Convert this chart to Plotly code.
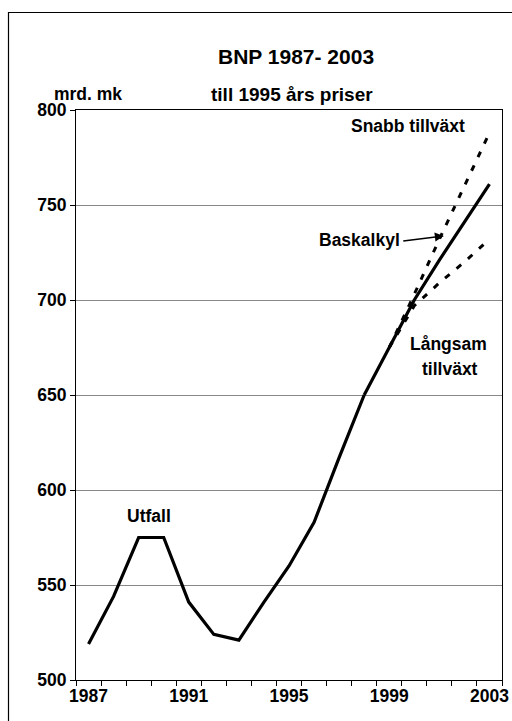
import plotly.graph_objects as go

# Data (milliards of marks, 1995 prices)
years_utfall = list(range(1987, 1999))
utfall = [519, 544, 575, 575, 541, 524, 521, 541, 560, 583, 617, 650]

years_bas = list(range(1998, 2004))
baskalkyl = [650, 675, 700, 721, 741, 761]

years_scen = list(range(1999, 2004))
snabb = [675, 703, 732, 760, 788]
langsam = [675, 697, 709, 720, 732]

x_ticks = [1987, 1991, 1995, 1999, 2003]
y_ticks = [500, 550, 600, 650, 700, 750, 800]

FONT = "Liberation Sans, Arial, sans-serif"
DASH = "6px,9px"

fig = go.Figure()
fig.add_trace(go.Scatter(x=years_utfall, y=utfall, mode="lines", name="Utfall",
                         line=dict(color="black", width=3.2)))
fig.add_trace(go.Scatter(x=years_bas, y=baskalkyl, mode="lines", name="Baskalkyl",
                         line=dict(color="black", width=3.2)))
fig.add_trace(go.Scatter(x=years_scen, y=snabb, mode="lines", name="Snabb tillväxt",
                         line=dict(color="black", width=3, dash=DASH)))
fig.add_trace(go.Scatter(x=years_scen, y=langsam, mode="lines", name="Långsam tillväxt",
                         line=dict(color="black", width=3, dash=DASH)))

bold = dict(family=FONT, size=17.5, color="black")

# plot area in pixels: x 76..502, y 110..680
PW, PH = 426, 570

annotations = [
    dict(text="<b>BNP 1987- 2003</b>", xref="paper", yref="paper",
         x=(296 - 76) / PW, y=(680 - 43) / PH,
         showarrow=False, font=dict(family=FONT, size=21, color="black")),
    dict(text="<b>till 1995 års priser</b>", xref="paper", yref="paper",
         x=(292 - 76) / PW, y=(680 - 82) / PH,
         showarrow=False, font=dict(family=FONT, size=19, color="black")),
    dict(text="<b>mrd. mk</b>", xref="paper", yref="paper",
         x=(52 - 76) / PW, y=(680 - 82) / PH,
         showarrow=False, font=bold),
    dict(text="<b>Snabb tillväxt</b>", x=1999.74, y=791.6, showarrow=False, font=bold),
    dict(text="<b>Baskalkyl</b>", x=1997.8, y=731.6, showarrow=False, font=bold),
    dict(text="", x=2001.18, y=733.7, ax=1999.5, ay=731, axref="x", ayref="y",
         showarrow=True, arrowhead=2, arrowsize=1.2, arrowwidth=1.5, arrowcolor="black"),
    dict(text="<b>Långsam</b>", x=2001.38, y=676.8, showarrow=False, font=bold),
    dict(text="<b>tillväxt</b>", x=2001.42, y=663.7, showarrow=False, font=bold),
    dict(text="<b>Utfall</b>", x=1989.42, y=586.3, showarrow=False, font=bold),
]

fig.update_layout(
    width=512, height=721,
    margin=dict(l=76, r=10, t=110, b=41),
    paper_bgcolor="white", plot_bgcolor="white",
    showlegend=False,
    annotations=annotations,
    font=dict(family=FONT, color="black"),
    shapes=[dict(type="rect", xref="paper", yref="paper",
                 x0=(8.5 - 76) / PW, x1=(540 - 76) / PW,
                 y0=(680 - 760) / PH, y1=(680 - 12.5) / PH,
                 line=dict(color="black", width=1.2), layer="below")],
)

fig.update_xaxes(
    range=[1986.5, 2003.5], automargin=False,
    tickmode="array", tickvals=x_ticks, ticktext=[f"<b>{v}</b>" for v in x_ticks],
    ticks="", showgrid=False, zeroline=False,
    showline=True, linecolor="black", linewidth=1.2, mirror=True,
    tickfont=dict(family=FONT, size=17.5, color="black"),
    minor=dict(tickmode="linear", tick0=1986.5, dtick=1, ticks="outside",
               ticklen=5, tickcolor="black", showgrid=False),
)
fig.update_yaxes(
    range=[500, 800], automargin=False,
    tickmode="array", tickvals=y_ticks, ticktext=[f"<b>{v}</b>" for v in y_ticks],
    ticks="outside", ticklen=5, tickcolor="black",
    showgrid=True, gridcolor="#888888", gridwidth=1, zeroline=False,
    showline=True, linecolor="black", linewidth=1.2, mirror=True,
    tickfont=dict(family=FONT, size=17.5, color="black"),
)

# drop the default 8px page margin so the figure sits at the window's corner
fig.write_html("out.html", config={"displayModeBar": False},
               post_script="document.body.style.margin='0';")
